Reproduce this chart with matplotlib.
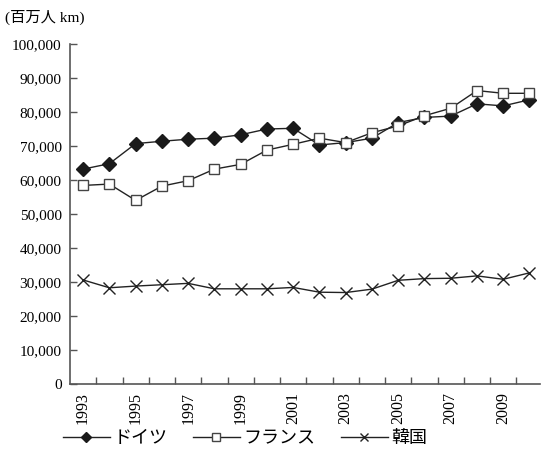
import numpy as np
import matplotlib.pyplot as plt

plt.rcParams['font.family'] = ['Liberation Serif', 'Noto Sans CJK JP', 'DejaVu Sans']

years = list(range(1993, 2011))
germany = [63200, 64800, 70700, 71400, 72000, 72300, 73300, 75000, 75200, 70300,
           71000, 72300, 76900, 78400, 78800, 82400, 81800, 83600]
france = [58400, 58800, 54000, 58200, 59800, 63200, 64600, 68800, 70500, 72300,
          71000, 73900, 75900, 78900, 81100, 86300, 85500, 85500]
korea = [30600, 28300, 28800, 29200, 29600, 28000, 28000, 28000, 28400, 27000,
         26900, 27900, 30500, 31000, 31100, 31800, 30800, 32700]
yticks = list(range(0, 100001, 10000))

fig = plt.figure(figsize=(5.41, 4.57), dpi=100)
ax = fig.add_axes([70/541, 1-384/457, 470/541, 340/457])

x = np.arange(len(years))
lc = '#222222'
ax.plot(x, germany, color=lc, lw=1, marker='D', ms=7, mfc='#1a1a1a', mec='#1a1a1a', label='ドイツ')
ax.plot(x, france, color=lc, lw=1, marker='s', ms=7, mfc='white', mec='#444444', mew=1, label='フランス')
ax.plot(x, korea, color=lc, lw=1, marker='x', ms=8, mec='#222222', mew=1, label='韓国')

ax.set_ylim(0, 100000)
ax.set_xlim(-0.5, 17.4)
ax.set_yticks(yticks)
ax.set_yticklabels(['{:,}'.format(v) for v in yticks], fontsize=11)
ax.set_xticks(x[:-1] + 0.5)
ax.set_xticklabels([])
ax.set_xticks(x[::2][:9], minor=True)
ax.set_xticklabels([str(y) for y in years[::2][:9]], minor=True, rotation=90, fontsize=11.5)
ax.tick_params(axis='x', which='minor', length=0, pad=6)
ax.tick_params(axis='both', which='major', direction='in', length=5, color='#555555', width=1)
ax.tick_params(axis='y', pad=6)

for s in ['top', 'right']:
    ax.spines[s].set_visible(False)
for s in ['left', 'bottom']:
    ax.spines[s].set_color('#555555')
    ax.spines[s].set_linewidth(1.2)

fig.text(5/541, 1-17/457, '(百万人 km)', fontsize=11, va='center', ha='left')

fig.legend(loc='center', bbox_to_anchor=(245/541, 1-438/457), ncol=3, frameon=False,
           handlelength=2.6, columnspacing=1.4, handletextpad=0.2, markerscale=0.75,
           prop={'family': ['Noto Sans CJK JP'], 'size': 13})

fig.savefig('out.png', dpi=100)
